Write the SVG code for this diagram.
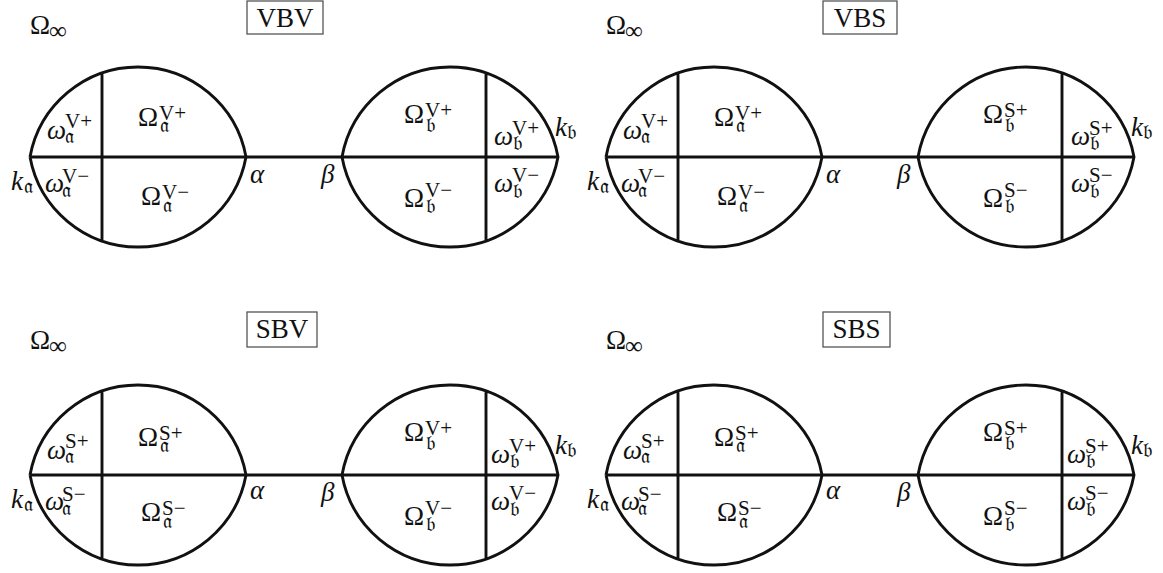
<svg xmlns="http://www.w3.org/2000/svg" width="1163" height="573" viewBox="0 0 1163 573">
<style>
.ln{fill:none;stroke:#111;stroke-width:2.9;stroke-linecap:butt}
.bx{fill:none;stroke:#555;stroke-width:1.3}
text{font-family:"Liberation Serif","DejaVu Serif",serif;fill:#111}
.m{font-size:27px}
.i{font-style:italic}
.s{font-size:21px;font-style:normal}
.u{font-size:25px;font-style:normal}
.t{font-size:27px;text-anchor:middle}
</style>
<defs>
<path id="lensA" class="ln" d="M30,157 A109.8,109.8 0 0 1 246,157 A109.8,109.8 0 0 1 30,157 M102,73.1 L102,240.9"/>
<path id="lensB" class="ln" d="M342,157 A109.8,109.8 0 0 1 558,157 A109.8,109.8 0 0 1 342,157 M486,73.1 L486,240.9"/>
</defs>

<!-- Panel VBV -->
<g id="panel-VBV">
  <g id="VBV-omega-inf"><text class="m" x="30" y="34">Ω<tspan class="u" x="49" y="39">∞</tspan></text></g>
  <g id="VBV-title"><rect class="bx" x="247" y="1" width="76" height="33"/><text class="t" x="285" y="27">VBV</text></g>
  <g id="VBV-lens-a">
    <use href="#lensA"/>
    <text class="m i" x="47" y="139">ω<tspan class="s" x="65" y="128">V+</tspan><tspan class="s" x="65" y="143">𝔞</tspan></text>
    <text class="m" x="138" y="126">Ω<tspan class="s" x="159" y="120">V+</tspan><tspan class="s" x="160" y="132">𝔞</tspan></text>
    <text class="m i" x="11" y="190">k<tspan class="s" x="24" y="193">𝔞</tspan></text>
    <text class="m i" x="45" y="192">ω<tspan class="s" x="62" y="183">V−</tspan><tspan class="s" x="62" y="197">𝔞</tspan></text>
    <text class="m" x="141" y="205">Ω<tspan class="s" x="162" y="199">V−</tspan><tspan class="s" x="163" y="212">𝔞</tspan></text>
    <text class="m i" x="250" y="183">α</text>
  </g>
  <g id="VBV-lens-b">
    <use href="#lensB"/>
    <text class="m i" x="321" y="183">β</text>
    <text class="m" x="404" y="123">Ω<tspan class="s" x="425" y="117">V+</tspan><tspan class="s" x="426" y="132">𝔟</tspan></text>
    <text class="m" x="404" y="207">Ω<tspan class="s" x="425" y="197">V−</tspan><tspan class="s" x="426" y="213">𝔟</tspan></text>
    <text class="m i" x="494" y="145">ω<tspan class="s" x="512" y="135">V+</tspan><tspan class="s" x="513" y="150">𝔟</tspan></text>
    <text class="m i" x="494" y="192">ω<tspan class="s" x="512" y="182">V−</tspan><tspan class="s" x="513" y="198">𝔟</tspan></text>
    <text class="m i" x="555" y="136">k<tspan class="s" x="567" y="139">𝔟</tspan></text>
  </g>
</g>

<!-- Panel VBS -->
<g id="panel-VBS" transform="translate(576,0)">
  <g id="VBS-omega-inf"><text class="m" x="30" y="34">Ω<tspan class="u" x="49" y="39">∞</tspan></text></g>
  <g id="VBS-title"><rect class="bx" x="247" y="1" width="74" height="33"/><text class="t" x="284" y="27">VBS</text></g>
  <g id="VBS-lens-a">
    <use href="#lensA"/>
    <text class="m i" x="47" y="139">ω<tspan class="s" x="65" y="128">V+</tspan><tspan class="s" x="65" y="143">𝔞</tspan></text>
    <text class="m" x="138" y="126">Ω<tspan class="s" x="159" y="120">V+</tspan><tspan class="s" x="160" y="132">𝔞</tspan></text>
    <text class="m i" x="11" y="190">k<tspan class="s" x="24" y="193">𝔞</tspan></text>
    <text class="m i" x="45" y="192">ω<tspan class="s" x="62" y="183">V−</tspan><tspan class="s" x="62" y="197">𝔞</tspan></text>
    <text class="m" x="141" y="205">Ω<tspan class="s" x="162" y="199">V−</tspan><tspan class="s" x="163" y="212">𝔞</tspan></text>
    <text class="m i" x="250" y="183">α</text>
  </g>
  <g id="VBS-lens-b">
    <use href="#lensB"/>
    <text class="m i" x="321" y="183">β</text>
    <text class="m" x="407" y="123">Ω<tspan class="s" x="428" y="117">S+</tspan><tspan class="s" x="429" y="132">𝔟</tspan></text>
    <text class="m" x="407" y="207">Ω<tspan class="s" x="428" y="197">S−</tspan><tspan class="s" x="429" y="213">𝔟</tspan></text>
    <text class="m i" x="495" y="145">ω<tspan class="s" x="513" y="135">S+</tspan><tspan class="s" x="514" y="150">𝔟</tspan></text>
    <text class="m i" x="495" y="192">ω<tspan class="s" x="513" y="182">S−</tspan><tspan class="s" x="514" y="198">𝔟</tspan></text>
    <text class="m i" x="555" y="136">k<tspan class="s" x="567" y="139">𝔟</tspan></text>
  </g>
</g>

<!-- Panel SBV -->
<g id="panel-SBV" transform="translate(0,318)">
  <g id="SBV-omega-inf"><text class="m" x="30" y="31">Ω<tspan class="u" x="49" y="36">∞</tspan></text></g>
  <g id="SBV-title"><rect class="bx" x="247" y="-6" width="70" height="35"/><text class="t" x="282" y="20">SBV</text></g>
  <g id="SBV-lens-a">
    <use href="#lensA"/>
    <text class="m i" x="47" y="141">ω<tspan class="s" x="65" y="130">S+</tspan><tspan class="s" x="65" y="145">𝔞</tspan></text>
    <text class="m" x="138" y="128">Ω<tspan class="s" x="159" y="122">S+</tspan><tspan class="s" x="160" y="134">𝔞</tspan></text>
    <text class="m i" x="11" y="190">k<tspan class="s" x="24" y="193">𝔞</tspan></text>
    <text class="m i" x="45" y="192">ω<tspan class="s" x="62" y="183">S−</tspan><tspan class="s" x="62" y="197">𝔞</tspan></text>
    <text class="m" x="141" y="203">Ω<tspan class="s" x="162" y="197">S−</tspan><tspan class="s" x="163" y="210">𝔞</tspan></text>
    <text class="m i" x="250" y="181">α</text>
  </g>
  <g id="SBV-lens-b">
    <use href="#lensB"/>
    <text class="m i" x="321" y="183">β</text>
    <text class="m" x="404" y="123">Ω<tspan class="s" x="425" y="117">V+</tspan><tspan class="s" x="426" y="132">𝔟</tspan></text>
    <text class="m" x="404" y="207">Ω<tspan class="s" x="425" y="197">V−</tspan><tspan class="s" x="426" y="213">𝔟</tspan></text>
    <text class="m i" x="491" y="145">ω<tspan class="s" x="509" y="135">V+</tspan><tspan class="s" x="510" y="150">𝔟</tspan></text>
    <text class="m i" x="491" y="192">ω<tspan class="s" x="509" y="182">V−</tspan><tspan class="s" x="510" y="198">𝔟</tspan></text>
    <text class="m i" x="555" y="136">k<tspan class="s" x="567" y="139">𝔟</tspan></text>
  </g>
</g>

<!-- Panel SBS -->
<g id="panel-SBS" transform="translate(576,318)">
  <g id="SBS-omega-inf"><text class="m" x="30" y="31">Ω<tspan class="u" x="49" y="36">∞</tspan></text></g>
  <g id="SBS-title"><rect class="bx" x="247" y="-6" width="67" height="35"/><text class="t" x="280.5" y="20">SBS</text></g>
  <g id="SBS-lens-a">
    <use href="#lensA"/>
    <text class="m i" x="47" y="141">ω<tspan class="s" x="65" y="130">S+</tspan><tspan class="s" x="65" y="145">𝔞</tspan></text>
    <text class="m" x="138" y="128">Ω<tspan class="s" x="159" y="122">S+</tspan><tspan class="s" x="160" y="134">𝔞</tspan></text>
    <text class="m i" x="11" y="190">k<tspan class="s" x="24" y="193">𝔞</tspan></text>
    <text class="m i" x="45" y="192">ω<tspan class="s" x="62" y="183">S−</tspan><tspan class="s" x="62" y="197">𝔞</tspan></text>
    <text class="m" x="141" y="203">Ω<tspan class="s" x="162" y="197">S−</tspan><tspan class="s" x="163" y="210">𝔞</tspan></text>
    <text class="m i" x="250" y="181">α</text>
  </g>
  <g id="SBS-lens-b">
    <use href="#lensB"/>
    <text class="m i" x="321" y="183">β</text>
    <text class="m" x="407" y="123">Ω<tspan class="s" x="428" y="117">S+</tspan><tspan class="s" x="429" y="132">𝔟</tspan></text>
    <text class="m" x="407" y="207">Ω<tspan class="s" x="428" y="197">S−</tspan><tspan class="s" x="429" y="213">𝔟</tspan></text>
    <text class="m i" x="491" y="145">ω<tspan class="s" x="509" y="135">S+</tspan><tspan class="s" x="510" y="150">𝔟</tspan></text>
    <text class="m i" x="491" y="192">ω<tspan class="s" x="509" y="182">S−</tspan><tspan class="s" x="510" y="198">𝔟</tspan></text>
    <text class="m i" x="555" y="136">k<tspan class="s" x="567" y="139">𝔟</tspan></text>
  </g>
</g>

<g id="connectors">
  <path class="ln" d="M30,157 H558"/>
  <path class="ln" d="M606,157 H1134"/>
  <path class="ln" d="M30,475 H558"/>
  <path class="ln" d="M606,475 H1134"/>
</g>
</svg>
